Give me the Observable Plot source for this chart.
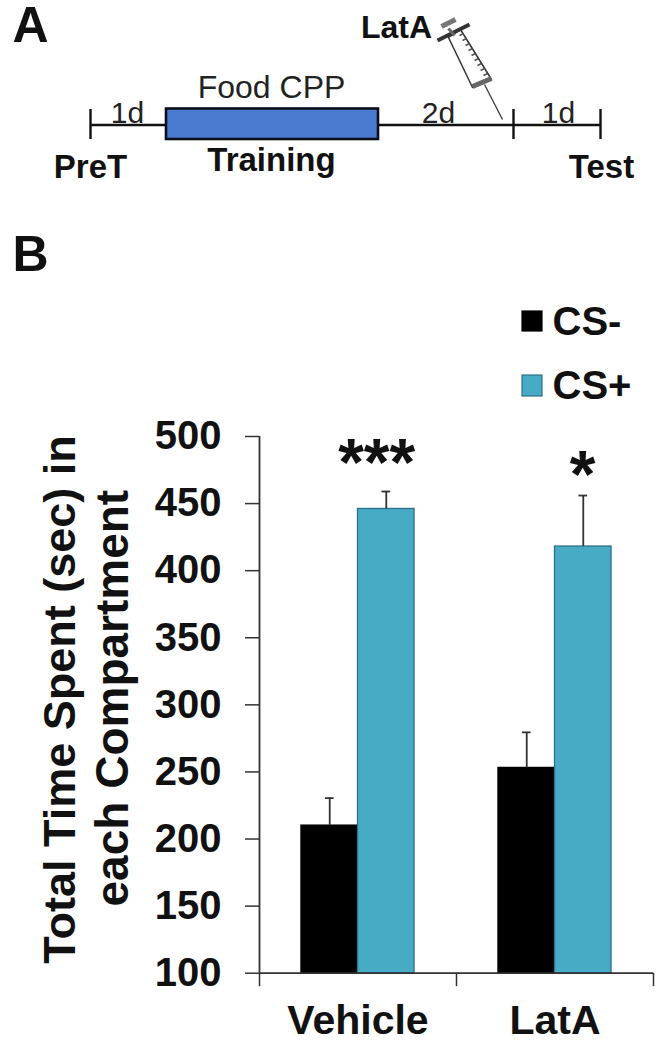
<!DOCTYPE html>
<html><head><meta charset="utf-8">
<script src="https://cdn.jsdelivr.net/npm/d3@7"></script>
<script src="https://cdn.jsdelivr.net/npm/@observablehq/plot@0.6"></script>
<style>
html,body{margin:0;padding:0;background:#fff}
#chart svg{display:block}
</style></head><body><div id="chart"></div>
<script>
// Panel B data
const groups = ["Vehicle", "LatA"];
const conditions = ["CS-", "CS+"];
const colors = ["#000000", "#48abc6"];
const meansMinus = [210, 253];
const meansPlus = [446, 418];
const errTopMinus = [230.5, 279.5];
const errTopPlus = [459, 456];
const yTicks = [100, 150, 200, 250, 300, 350, 400, 450, 500];
const xBoundaries = [0, 1, 2];
const groupCentres = [0.5, 1.5];
const stars = ["***", "*"];
const starY = [464, 455];

// Panel A schematic, in its own 663x420 sketch units
const panelLabels = [["A", 12, 41], ["B", 12, 270]];
const timelineTicks = [90, 513, 600];
const plainLabels = [["1d", 127, 122], ["Food CPP", 271, 97, 32], ["2d", 438, 122], ["1d", 558, 122]];
const boldLabels = [["Training", 271, 170], ["PreT", 90, 177], ["Test", 601, 177]];
const barrel = [[448, 37], [460, 29], [491, 79], [472, 87], [448, 37]];
const graduations = [[456,30,460,28],[459,35,463,33],[462,40,466,38],[465,45,469,43],[468,50,472,48],[471,55,475,53],[474,60,478,58],[477,65,481,63],[480,70,484,68],[483,75,487,73]];
const syringeLines = [[437,40,469,24,4,"#333"],[441,26,455,19,5,"#777"],[472,86,491,78,5,"#666"],[484,84,502,119,1.4,"#444"],[448,28,454,35,3,"#666"]];

const bars = [];
const errs = [];
groups.forEach((g, i) => {
  [meansMinus[i], meansPlus[i]].forEach((v, j) => bars.push({group: i, cond: j, value: v}));
  [errTopMinus[i], errTopPlus[i]].forEach((v, j) => errs.push({group: i, cond: j, base: j ? meansPlus[i] : meansMinus[i], top: v}));
});
const barW = 0.287;
const left = d => d.group + 0.5 + (d.cond - 1) * barW;
const right = d => left(d) + barW;
const mid = d => left(d) + barW / 2;
const font = "'Liberation Sans', Arial, sans-serif";
const ink = "#333";

const header = Plot.plot({
  width: 663, height: 420, margin: 0,
  x: {domain: [0, 663], range: [0, 663], axis: null},
  y: {domain: [0, 420], range: [0, 420], axis: null},
  style: {fontFamily: font, color: "#111", background: "#fff"},
  marks: [
    Plot.ruleY([124.5], {x1: 90, x2: 600, stroke: "#111", strokeWidth: 2.4}),
    Plot.ruleX(timelineTicks, {y1: 109, y2: 139, stroke: "#111", strokeWidth: 2.4}),
    Plot.rect([0], {x1: 166, x2: 378, y1: 108.5, y2: 139, fill: "#4a7bd0", stroke: "#0b0f1a", strokeWidth: 2.6}),
    Plot.text(plainLabels, {x: d => d[1], y: d => d[2], text: d => d[0], fontSize: d => d[3] || 30, fill: "#222", lineAnchor: "bottom"}),
    Plot.text(boldLabels, {x: d => d[1], y: d => d[2], text: d => d[0], fontSize: 33, fontWeight: "bold", fill: "#111", lineAnchor: "bottom"}),
    Plot.text(["LatA"], {x: 396, y: 37, text: d => d, fontSize: 32, fontWeight: "bold", fill: "#111", lineAnchor: "bottom"}),
    Plot.text(panelLabels, {x: d => d[1], y: d => d[2], text: d => d[0], textAnchor: "start", fontSize: 50, fontWeight: "bold", fill: "#111", lineAnchor: "bottom"}),
    Plot.line(barrel, {x: d => d[0], y: d => d[1], stroke: "#333", strokeWidth: 1.5}),
    Plot.link(graduations, {x1: d => d[0], y1: d => d[1], x2: d => d[2], y2: d => d[3], stroke: "#555", strokeWidth: 1.6}),
    Plot.link(syringeLines, {x1: d => d[0], y1: d => d[1], x2: d => d[2], y2: d => d[3], strokeWidth: d => d[4], stroke: d => d[5]}),
    // Legend
    Plot.rect(conditions, {x1: 522, x2: 542, y1: (d, i) => [311, 375][i], y2: (d, i) => [331, 396][i], fill: (d, i) => colors[i], stroke: (d, i) => i ? "#2f6f88" : "#000", strokeWidth: 1.2}),
    Plot.text(conditions, {x: 552, y: (d, i) => [334, 398][i], text: d => d, textAnchor: "start", fontSize: 40, fontWeight: "bold", fill: "#111", lineAnchor: "bottom"})
  ]
});

const chart = Plot.plot({
  width: 663, height: 628,
  marginLeft: 259, marginRight: 10, marginTop: 16, marginBottom: 75.3,
  x: {domain: [0, 2]},
  y: {domain: [100, 500]},
  style: {fontFamily: font, fontWeight: "bold", color: "#111", background: "#fff", overflow: "visible"},
  marks: [
    Plot.rectY(bars, {x1: left, x2: right, y1: 100, y2: "value", fill: d => colors[d.cond], stroke: d => d.cond ? "#2f6f88" : "#000", strokeWidth: 1.3}),
    Plot.ruleX(errs, {x: mid, y1: "base", y2: "top", stroke: ink, strokeWidth: 1.8}),
    Plot.ruleY(errs, {y: "top", x1: d => mid(d) - 0.022, x2: d => mid(d) + 0.022, stroke: ink, strokeWidth: 1.8}),
    Plot.axisY({ticks: yTicks, tickSize: 14, tickPadding: 24, tickFormat: d => d, fontSize: 40, label: null, stroke: ink, strokeWidth: 1.5, fill: "#111"}),
    Plot.axisX({ticks: xBoundaries, tickSize: 13.5, tickFormat: () => "", label: null, stroke: ink, strokeWidth: 1.5}),
    Plot.axisX({ticks: groupCentres, tickSize: 0, tickPadding: 32, tickFormat: d => groups[Math.floor(d)], fontSize: 41, label: null, fill: "#111"}),
    Plot.ruleX([0], {y1: 100, y2: 500, stroke: ink, strokeWidth: 1.8}),
    Plot.ruleY([100], {x1: 0, x2: 2, stroke: ink, strokeWidth: 1.8}),
    Plot.text(stars, {x: [0.595, 1.64], y: starY, text: d => d, fontSize: 66, fill: "#111", lineAnchor: "bottom"}),
    Plot.text(["Total Time Spent (sec) in", "each Compartment"], {x: [-0.935, -0.668], y: [304, 305], text: d => d, rotate: -90, fontSize: [45, 46], fill: "#111", lineAnchor: "bottom"})
  ]
});

document.getElementById("chart").append(header, chart);
</script></body></html>
